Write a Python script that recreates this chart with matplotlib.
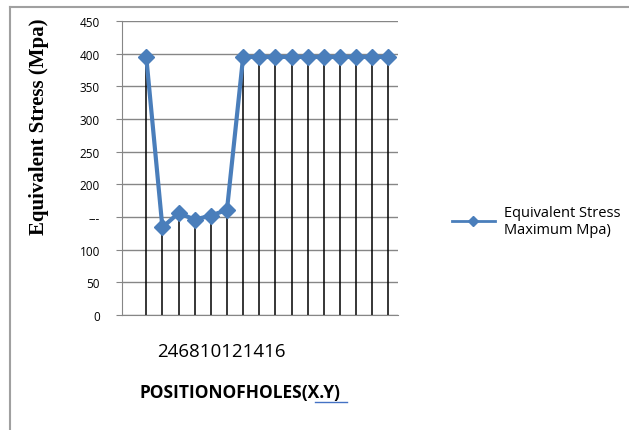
import matplotlib.pyplot as plt
from matplotlib.lines import Line2D

# hole positions (category index) and equivalent stress values
positions = list(range(1, 17))
stress = [395, 134, 156, 146, 152, 161, 395, 395, 395, 395, 395, 395, 395, 395, 395, 395]
ytick_vals = [0, 50, 100, 150, 200, 250, 300, 350, 400, 450]
ytick_labels = ['0', '50', '100', '---', '200', '250', '300', '350', '400', '450']

blue = '#4a7ebb'

fig = plt.figure(figsize=(6.29, 4.31), dpi=100)
ax = fig.add_axes([0.194, 0.267, 0.439, 0.682])

# drop lines from each point to the axis
ax.vlines(positions, 0, stress, colors='black', linewidth=1.1, zorder=2)
ax.plot(positions, stress, color=blue, linewidth=3, marker='D', markersize=8, zorder=3)

ax.set_xlim(-0.5, 16.6)
ax.set_ylim(0, 450)
ax.set_yticks(ytick_vals)
ax.set_yticklabels(ytick_labels, fontsize=8.5, family='Open Sans')
ax.set_xticks([])
ax.yaxis.grid(True, color='#868686', linewidth=1)
ax.set_axisbelow(True)
ax.tick_params(axis='y', length=4, color='#868686', pad=12)
for s in ['top', 'right']:
    ax.spines[s].set_visible(False)
ax.spines['left'].set_color('#868686')
ax.spines['bottom'].set_color('#868686')

fig.text(0.062, 0.705, 'Equivalent Stress (Mpa)', rotation=90, ha='center', va='center',
         fontsize=15, fontweight='bold', family='Liberation Serif')
fig.text(0.250, 0.183, '246810121416', fontsize=13.5, family='Open Sans', va='center')
fig.text(0.222, 0.088, 'POSITIONOFHOLES(X.Y)', fontsize=12.5, fontweight='bold',
         family='Open Sans', va='center')
fig.add_artist(Line2D([0.500, 0.552], [0.066, 0.066], color='#4472c4', linewidth=1))

# legend with thin handle like the original
handle = Line2D([], [], color=blue, linewidth=2, marker='D', markersize=5)
fig.legend([handle], ['Equivalent Stress\nMaximum Mpa)'], loc='center left',
           bbox_to_anchor=(0.697, 0.485), frameon=False,
           prop={'family': 'Open Sans', 'size': 10.5}, handlelength=3.0,
           handletextpad=0.6)

# outer chart border (top and left visible)
fig.add_artist(Line2D([0.016, 1.0], [0.982, 0.982], color='#a0a0a0', linewidth=1.5))
fig.add_artist(Line2D([0.016, 0.016], [0.0, 0.982], color='#a0a0a0', linewidth=1.5))

fig.savefig('out.png', dpi=100)
